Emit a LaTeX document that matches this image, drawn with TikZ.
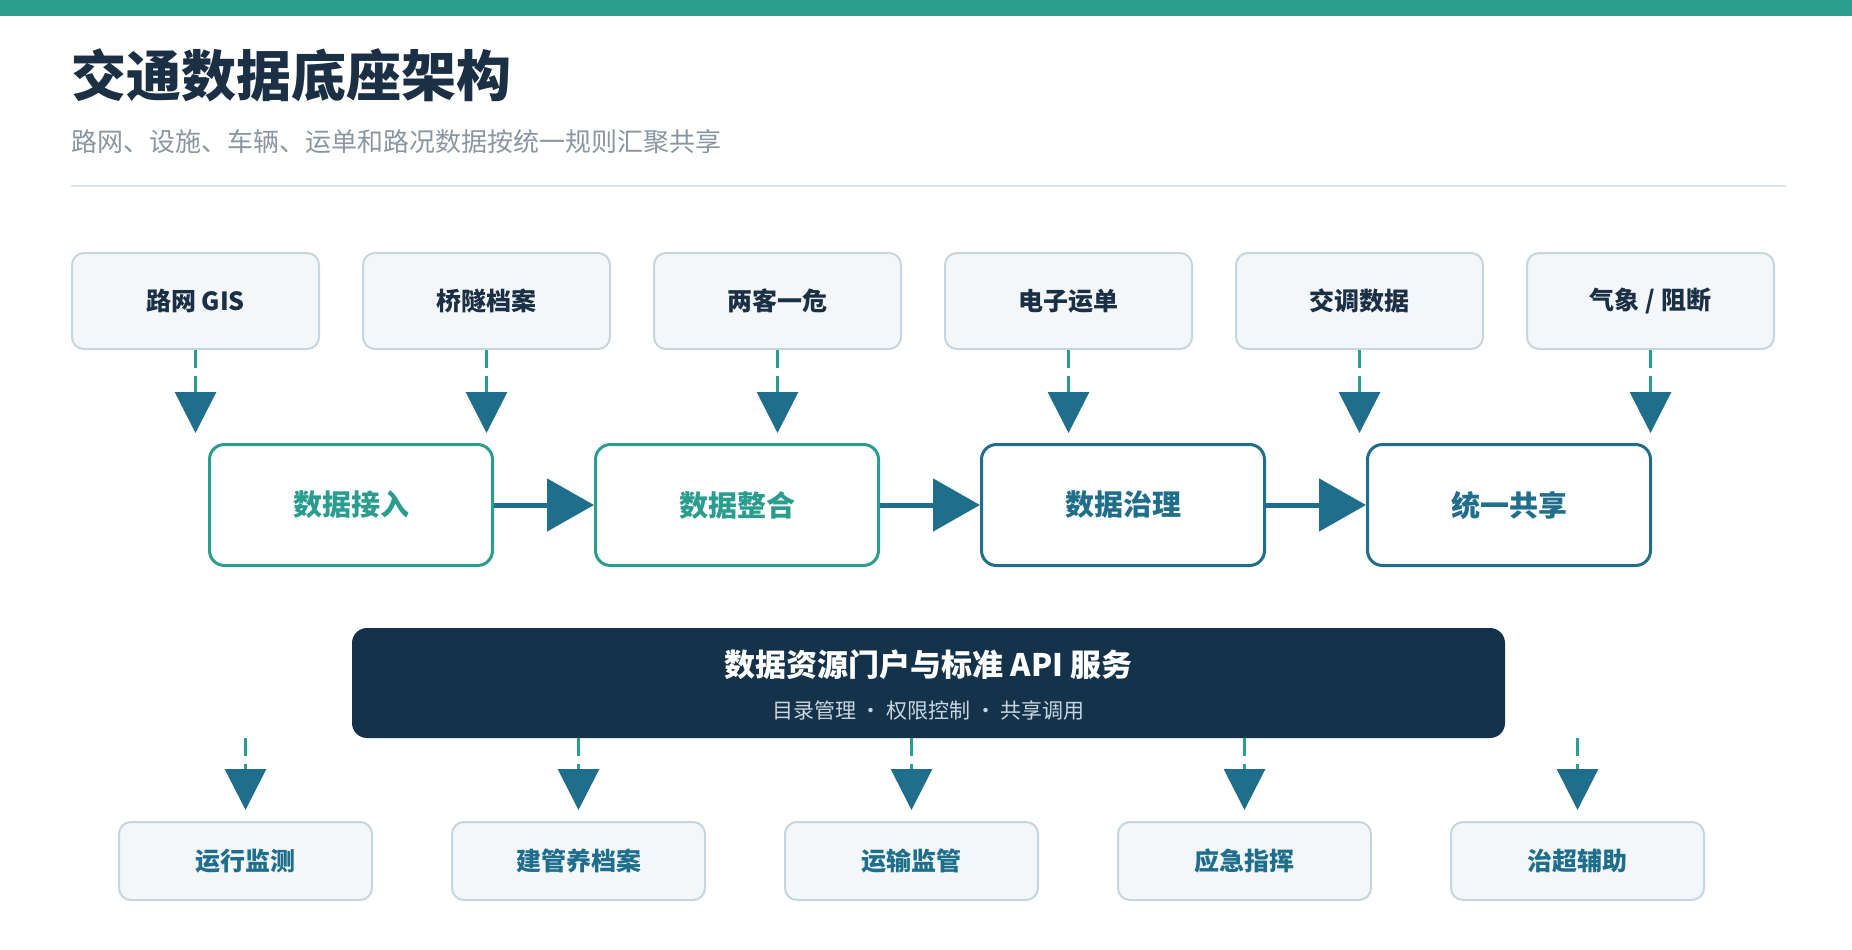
\documentclass[tikz,border=0pt]{standalone}
\usepackage{fontspec}
\setmainfont{Noto Sans CJK SC}
\usepackage{tikz}
\usetikzlibrary{positioning,arrows.meta}
\definecolor{tealG}{HTML}{2A9D8F}
\definecolor{flowBlue}{HTML}{1E6E8C}
\definecolor{navyD}{HTML}{14324A}
\definecolor{inkDark}{HTML}{1B2F45}
\definecolor{inkGray}{HTML}{8A97A3}
\definecolor{boxFill}{HTML}{F3F7FA}
\definecolor{boxLine}{HTML}{C7D5DE}
\definecolor{ruleGray}{HTML}{DFE6EB}
\definecolor{subLight}{HTML}{C9D6E0}
\newcommand{\fsz}[1]{\fontsize{#1}{1.2\dimexpr#1pt\relax}\selectfont}
\tikzset{
    srcBox/.style={draw=boxLine, fill=boxFill, rounded corners=12pt, line width=2pt, minimum width=247pt, minimum height=96pt, inner sep=0pt, text=inkDark, font=\fsz{25}\bfseries},
    stepBox/.style={draw=#1, fill=white, rounded corners=15pt, line width=3pt, minimum width=283pt, minimum height=121pt, inner sep=0pt, text=#1, font=\fsz{29}\bfseries},
    useBox/.style={draw=boxLine, fill=boxFill, rounded corners=12pt, line width=2pt, minimum width=253pt, minimum height=78pt, inner sep=0pt, text=flowBlue, font=\fsz{25}\bfseries},
    apiBand/.style={fill=navyD, rounded corners=15pt, minimum width=1153pt, minimum height=110pt, inner sep=0pt},
    feed/.style={draw=tealG, line width=3pt, dash pattern=on 18pt off 8pt, -{Triangle[length=41pt,width=41pt,color=flowBlue]}},
    flow/.style={color=flowBlue, line width=5pt, -{Triangle[length=47pt,width=52pt,color=flowBlue]}},
    node distance=42pt
}
\begin{document}
\begin{tikzpicture}[x=1pt,y=-1pt]
	\useasboundingbox[fill=white] (0,0) rectangle (1852,950);
	\fill[tealG] (0,0) rectangle (1852,16);
	\node[anchor=west, inner sep=0pt, text=inkDark, font=\fsz{55}\bfseries] (title) at (71,75) {交通数据底座架构};
	\node[anchor=west, inner sep=0pt, text=inkGray, font=\fsz{26}] (subtitle) at (71,142) {路网、设施、车辆、运单和路况数据按统一规则汇聚共享};
	\draw[ruleGray, line width=2pt] (71,186) -- (1786,186);

	% sources
	\node[srcBox] (t1) at (195.5,301) {路网 GIS};
	\node[srcBox, right = of t1] (t2) {桥隧档案};
	\node[srcBox, right = of t2] (t3) {两客一危};
	\node[srcBox, right = of t3] (t4) {电子运单};
	\node[srcBox, right = of t4] (t5) {交调数据};
	\node[srcBox, right = of t5] (t6) {气象 / 阻断};

	% pipeline
	\node[stepBox=tealG] (p1) at (351,505) {数据接入};
	\node[stepBox=tealG, right = 100pt of p1] (p2) {数据整合};
	\node[stepBox=flowBlue, right = 100pt of p2] (p3) {数据治理};
	\node[stepBox=flowBlue, right = 100pt of p3] (p4) {统一共享};

	% service band
	\node[apiBand] (api) at (928.5,683) {};
	\node[inner sep=0pt, text=white, font=\fsz{31}\bfseries] (apiTitle) at (928.5,665) {数据资源门户与标准 API 服务};
	\node[inner sep=0pt, text=subLight, font=\fsz{21}] (apiSub) at (928.5,710) {目录管理 · 权限控制 · 共享调用};

	% applications
	\node[useBox] (b1) at (245.5,861) {运行监测};
	\node[useBox, right = 78pt of b1] (b2) {建管养档案};
	\node[useBox, right = 78pt of b2] (b3) {运输监管};
	\node[useBox, right = 78pt of b3] (b4) {应急指挥};
	\node[useBox, right = 78pt of b4] (b5) {治超辅助};

	\draw[feed, shorten >=10pt]
	(t1) edge (t1 |- p1.north)
	(t2) edge (t2 |- p1.north)
	(t3) edge (t3 |- p1.north)
	(t4) edge (t4 |- p1.north)
	(t5) edge (t5 |- p1.north)
	(t6) -- (t6 |- p1.north);

	\draw[flow]
	(p1) edge (p2)
	(p2) edge (p3)
	(p3) -- (p4);

	\draw[feed, shorten >=11pt]
	(b1 |- api.south) edge (b1)
	(b2 |- api.south) edge (b2)
	(b3 |- api.south) edge (b3)
	(b4 |- api.south) edge (b4)
	(b5 |- api.south) -- (b5);
\end{tikzpicture}
\end{document}
